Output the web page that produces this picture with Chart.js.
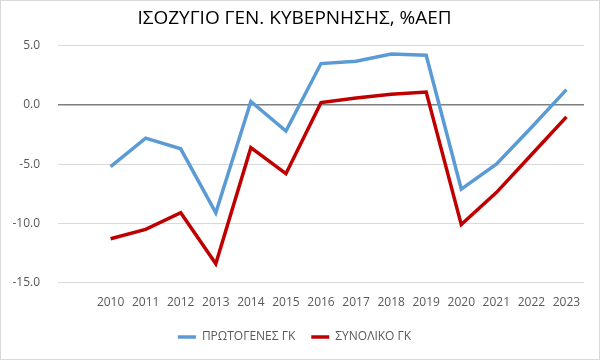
<!DOCTYPE html>
<html>
<head>
<meta charset="utf-8">
<script src="https://cdn.jsdelivr.net/npm/chart.js@4.4.1/dist/chart.umd.min.js"></script>
<style>
    html, body { margin: 0; padding: 0; background: #fff; }
    #wrap { width: 598px; height: 358px; border: 1px solid #d9d9d9; }
</style>
</head>
<body>
<div id="wrap"><canvas id="balanceChart" width="598" height="358"></canvas></div>
<script>
// categories (first slot is empty, as in the original sheet)
const years = ["", "2010", "2011", "2012", "2013", "2014", "2015", "2016", "2017", "2018", "2019", "2020", "2021", "2022", "2023"];
const primaryBalance = [null, -5.2, -2.8, -3.7, -9.1, 0.3, -2.2, 3.5, 3.7, 4.3, 4.2, -7.1, -5.0, -1.9, 1.3];
const totalBalance = [null, -11.3, -10.5, -9.1, -13.4, -3.6, -5.8, 0.2, 0.6, 0.9, 1.1, -10.1, -7.4, -4.2, -1.0];
const yTicks = [5, 0, -5, -10, -15];

document.addEventListener("DOMContentLoaded", function () {
    const ctx = document.getElementById("balanceChart").getContext("2d");
    const fontFamily = "'Open Sans', 'Noto Sans', sans-serif";

    new Chart(ctx, {
        type: "line",
        data: {
            labels: years,
            datasets: [
                {
                    label: "ΠΡΩΤΟΓΕΝΕΣ ΓΚ",
                    data: primaryBalance,
                    borderColor: "#5b9bd5",
                    backgroundColor: "#5b9bd5",
                    borderWidth: 3.5,
                    pointRadius: 0,
                    tension: 0,
                },
                {
                    label: "ΣΥΝΟΛΙΚΟ ΓΚ",
                    data: totalBalance,
                    borderColor: "#c00000",
                    backgroundColor: "#c00000",
                    borderWidth: 3.5,
                    pointRadius: 0,
                    tension: 0,
                },
            ],
        },
        options: {
            responsive: false,
            animation: false,
            layout: {
                padding: { left: 4, right: 15, top: 6, bottom: 6 },
            },
            plugins: {
                title: {
                    display: true,
                    text: "ΙΣΟΖΥΓΙΟ ΓΕΝ. ΚΥΒΕΡΝΗΣΗΣ, %ΑΕΠ",
                    color: "#000",
                    font: { family: fontFamily, size: 19, weight: "normal" },
                    padding: { top: 0, bottom: 16 },
                },
                legend: {
                    position: "bottom",
                    labels: {
                        color: "#595959",
                        font: { family: fontFamily, size: 12 },
                        usePointStyle: true,
                        pointStyle: "line",
                        pointStyleWidth: 18,
                        padding: 16,
                    },
                },
                tooltip: { enabled: false },
            },
            scales: {
                x: {
                    offset: true,
                    grid: { display: false },
                    border: { display: false },
                    ticks: {
                        color: "#595959",
                        font: { family: fontFamily, size: 12 },
                        maxRotation: 0,
                        autoSkip: false,
                        padding: 5,
                    },
                },
                y: {
                    min: -15,
                    max: 5,
                    afterFit: function (scale) {
                        scale.width = 53;
                    },
                    afterBuildTicks: function (scale) {
                        scale.ticks = yTicks.map(v => ({ value: v }));
                    },
                    grid: {
                        color: function (c) {
                            return c.tick && c.tick.value === 0 ? "#7f7f7f" : "#d9d9d9";
                        },
                        lineWidth: function (c) {
                            return c.tick && c.tick.value === 0 ? 1.5 : 1;
                        },
                        drawTicks: false,
                    },
                    border: { display: false },
                    ticks: {
                        color: "#595959",
                        font: { family: fontFamily, size: 12 },
                        padding: 18,
                        callback: function (value) {
                            return value.toFixed(1);
                        },
                    },
                },
            },
        },
    });
});
</script>
</body>
</html>
